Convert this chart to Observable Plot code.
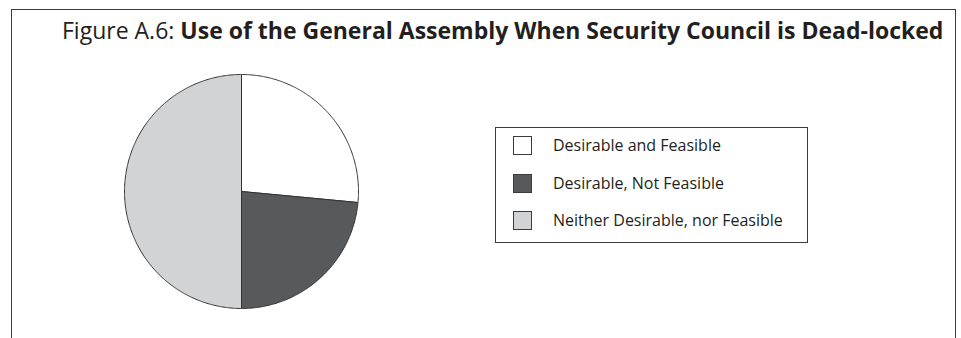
<!DOCTYPE html>
<html>
<head>
<meta charset="utf-8">
<script src="https://cdn.jsdelivr.net/npm/d3@7"></script>
<script src="https://cdn.jsdelivr.net/npm/@observablehq/plot@0.6"></script>
<style>
  html, body { margin: 0; padding: 0; background: #fff; }
  #wrap { position: relative; width: 961px; height: 338px; overflow: hidden; font-family: "Open Sans", "Noto Sans", sans-serif; color: #231f20; }
  #frame { position: absolute; left: 11px; top: 9px; width: 943px; height: 360px; border: 1.5px solid #3a3a3a; border-bottom: none; }
  #title { position: absolute; left: 62px; top: 14px; font-size: 23px; white-space: nowrap; }
  #title b { font-weight: 700; }
  #pie { position: absolute; left: 121px; top: 71px; }
  #legend { position: absolute; left: 495px; top: 127px; width: 313px; height: 116px; border: 1px solid #3a3a3a; box-sizing: border-box; }
  .row { position: absolute; left: 17px; height: 20px; display: flex; align-items: center; font-size: 16px; }
  .sw { width: 19px; height: 19px; border: 1px solid #3a3a3a; margin-right: 21px; box-sizing: border-box; flex: none; }
</style>
</head>
<body>
<div id="wrap">
  <div id="frame"></div>
  <div id="title"></div>
  <div id="pie"></div>
  <div id="legend"></div>
</div>
<script>
const titlePrefix = "Figure A.6: ";
const titleMain = "Use of the General Assembly When Security Council is Dead-locked";
const categories = ["Desirable and Feasible", "Desirable, Not Feasible", "Neither Desirable, nor Feasible"];
const values = [26.5, 23.5, 50];
const colors = ["#ffffff", "#58595b", "#d1d3d4"];

document.getElementById("title").innerHTML = titlePrefix + "<b>" + titleMain + "</b>";

// Build slice polygons from the values (angle 0 at top, clockwise)
const pieGen = d3.pie().sort(null).value(d => d)(values);
const pts = [];
pieGen.forEach((s, i) => {
  const n = Math.max(2, Math.ceil((s.endAngle - s.startAngle) / 0.01));
  pts.push({cat: categories[i], x: 0, y: 0});
  for (let k = 0; k <= n; k++) {
    const a = s.startAngle + (s.endAngle - s.startAngle) * k / n;
    pts.push({cat: categories[i], x: Math.sin(a), y: Math.cos(a)});
  }
  pts.push({cat: categories[i], x: 0, y: 0});
});

const chart = Plot.plot({
  width: 240,
  height: 240,
  margin: 3,
  x: {domain: [-1, 1], axis: null},
  y: {domain: [-1, 1], axis: null},
  color: {domain: categories, range: colors},
  marks: [
    Plot.line(pts, {x: "x", y: "y", z: "cat", fill: "cat", stroke: "#333333", strokeWidth: 1, strokeLinejoin: "round", curve: "linear"})
  ]
});
document.getElementById("pie").appendChild(chart);

const legend = document.getElementById("legend");
const rowTops = [7, 45, 82];
categories.forEach((c, i) => {
  const row = document.createElement("div");
  row.className = "row";
  row.style.top = rowTops[i] + "px";
  const sw = document.createElement("div");
  sw.className = "sw";
  sw.style.background = colors[i];
  row.appendChild(sw);
  const t = document.createElement("span");
  t.textContent = c;
  row.appendChild(t);
  legend.appendChild(row);
});
</script>
</body>
</html>
